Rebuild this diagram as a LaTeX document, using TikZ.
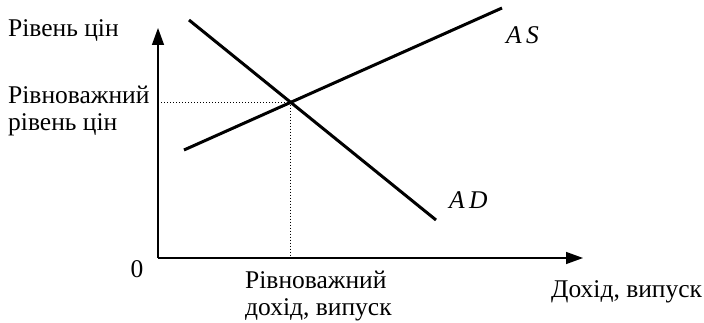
\documentclass[tikz,border=0pt]{standalone}
\usepackage{fontspec}
\setmainfont{Liberation Serif}
\usepackage{tikz}
\usetikzlibrary{arrows.meta,positioning}

\begin{document}
\begin{tikzpicture}[
    x=1pt, y=-1pt,
    axis/.style={line width=1.4pt, -{Triangle[length=17pt, width=12pt]}},
    curve/.style={line width=3pt},
    guide/.style={line width=1pt, dotted},
    label/.style={font=\fontsize{25.5}{27}\selectfont, inner sep=0pt, align=left},
    curvelabel/.style={font=\fontsize{25.5}{27}\selectfont\itshape, inner sep=0pt}
]
\useasboundingbox (0,0) rectangle (704,323);

% Axes
\coordinate (origin) at (158,258);
\coordinate (ytop) at (158,28);
\coordinate (xend) at (583,258);
\draw[axis] (origin) -- (ytop);
\draw[axis] (origin) -- (xend);

% AS and AD
\coordinate (as1) at (184,150);
\coordinate (as2) at (502,8);
\coordinate (ad1) at (189,20);
\coordinate (ad2) at (436,220);
\draw[curve] (as1) -- (as2);
\draw[curve] (ad1) -- (ad2);
\coordinate (eq) at (intersection of as1--as2 and ad1--ad2);

% Equilibrium guides
\coordinate (eqy) at (origin |- eq);
\coordinate (eqx) at (eq |- origin);
\draw[guide] (eqy) -- (eq) -- (eqx);

% Labels
\node[curvelabel, anchor=west] (aslabel) at (506,35) {A\,S};
\node[curvelabel, anchor=west] (adlabel) at (449,200) {A\,D};
\node[label, anchor=west] (price) at (8,31) {Рівень цін};
\node[label, anchor=west] (eqprice) at (8,111) {Рівноважний\\рівень цін};
\node[label] (zero) at (137,269) {0};
\node[label, anchor=north west] (eqincome) at (245,271) {Рівноважний\\дохід, випуск};
\node[label, anchor=west] (income) at (551,292) {Дохід, випуск};

\end{tikzpicture}
\end{document}
